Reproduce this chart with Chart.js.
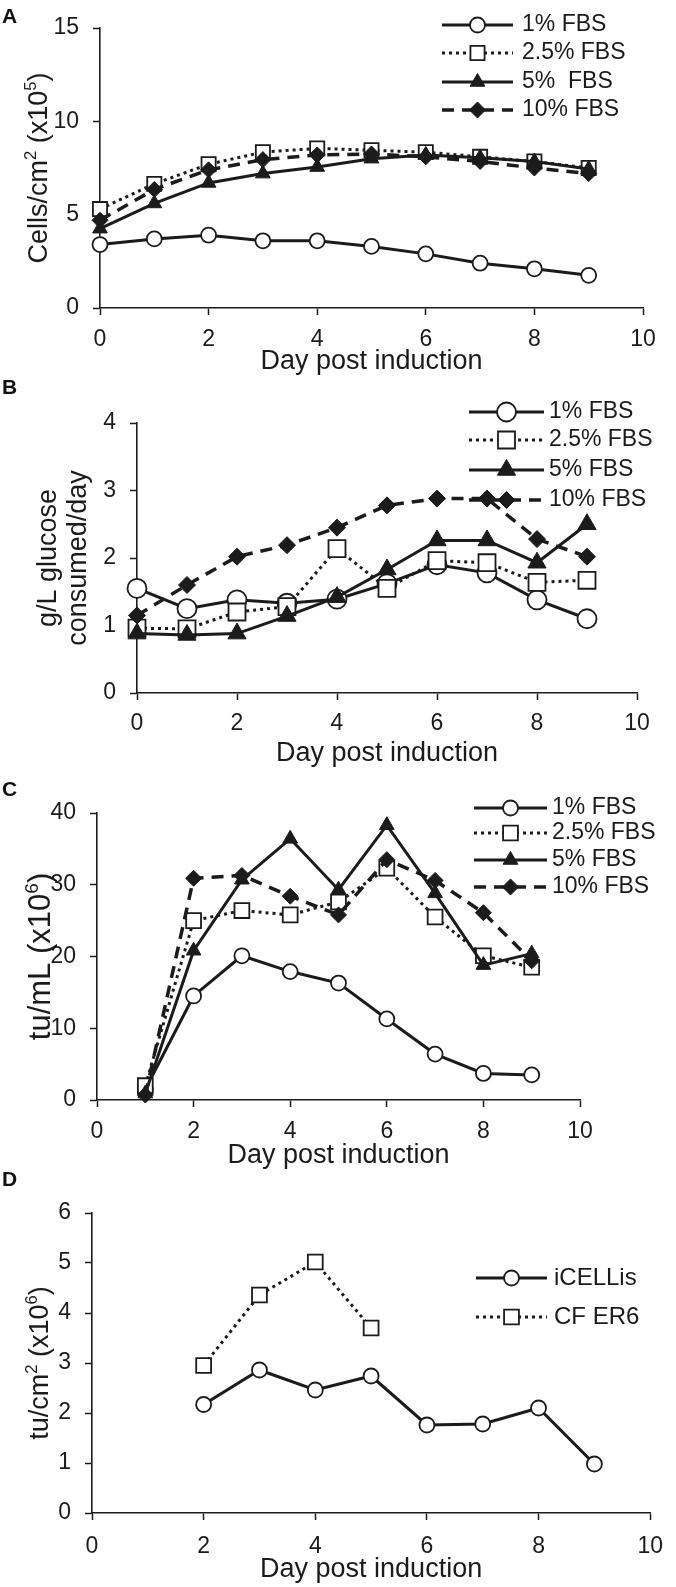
<!DOCTYPE html>
<html>
<head>
<meta charset="utf-8">
<script src="https://cdn.jsdelivr.net/npm/chart.js@4.4.1/dist/chart.umd.min.js"></script>
<style>
  html, body { margin: 0; padding: 0; background: #fff; }
  body { width: 676px; height: 1587px; position: relative; overflow: hidden; }
  .panel { position: absolute; left: 0; width: 676px; }
  .tag { position: absolute; left: 2px; font: bold 21px/21px 'Liberation Sans', Arial, sans-serif; color: #111; }
</style>
</head>
<body>
<div class="panel" style="top:0px;height:379px"><canvas id="chartA"></canvas></div>
<div class="panel" style="top:379px;height:392px"><canvas id="chartB"></canvas></div>
<div class="panel" style="top:771px;height:402px"><canvas id="chartC"></canvas></div>
<div class="panel" style="top:1173px;height:414px"><canvas id="chartD"></canvas></div>
<div class="tag" style="top:5px">A</div>
<div class="tag" style="top:376px">B</div>
<div class="tag" style="top:778px">C</div>
<div class="tag" style="top:1168px">D</div>

<script>
// ---- data ----
const days = [0, 1, 2, 3, 4, 5, 6, 7, 8, 9];
const titerDays = [1, 2, 3, 4, 5, 6, 7, 8, 9];
const icellisDays = [2, 3, 4, 5, 6, 7, 8, 9];
const cfDays = [2, 3, 4, 5];

// A - cells/cm2 (x10^5)
const cellsFbs1 = [3.4, 3.7, 3.9, 3.6, 3.6, 3.3, 2.9, 2.4, 2.1, 1.75];
const cellsFbs25 = [5.3, 6.65, 7.7, 8.35, 8.55, 8.45, 8.35, 8.1, 7.85, 7.5];
const cellsFbs5 = [4.25, 5.6, 6.7, 7.2, 7.55, 8.0, 8.2, 8.05, 7.85, 7.45];
const cellsFbs10 = [4.7, 6.35, 7.4, 7.95, 8.2, 8.25, 8.1, 7.85, 7.5, 7.2];

// B - g/L glucose consumed/day
const glucoseFbs1 = [1.55, 1.25, 1.38, 1.33, 1.39, 1.62, 1.9, 1.78, 1.38, 1.1];
const glucoseFbs25 = [0.96, 0.95, 1.2, 1.28, 2.14, 1.55, 1.96, 1.93, 1.64, 1.67];
const glucoseFbs5 = [0.88, 0.86, 0.88, 1.14, 1.42, 1.83, 2.26, 2.26, 1.93, 2.5];
const glucoseFbs10 = [1.15, 1.6, 2.02, 2.19, 2.45, 2.78, 2.88, 2.88, 2.28, 2.02];

// C - tu/mL (x10^6)
const titerFbs1 = [1.5, 14.5, 20.1, 17.9, 16.3, 11.3, 6.4, 3.7, 3.5];
const titerFbs25 = [2.0, 25.0, 26.4, 25.8, 27.6, 32.3, 25.5, 20.1, 18.5];
const titerFbs5 = [0.9, 20.8, 30.7, 36.4, 29.3, 38.3, 28.8, 18.8, 20.4];
const titerFbs10 = [0.7, 30.9, 31.3, 28.4, 25.8, 33.5, 30.6, 26.1, 19.4];

// D - tu/cm2 (x10^6)
const icellis = [2.17, 2.86, 2.46, 2.74, 1.76, 1.78, 2.1, 0.98];
const cfEr6 = [2.95, 4.36, 5.02, 3.7];

const labelsA = ['1% FBS', '2.5% FBS', '5%  FBS', '10% FBS'];
const labelsBC = ['1% FBS', '2.5% FBS', '5% FBS', '10% FBS'];
const labelsD = ['iCELLis', 'CF ER6'];

const xTitle = 'Day post induction';
const yTicksA = { max: 15, step: 5 };
const yTicksB = { max: 4, step: 1 };
const yTicksC = { max: 40, step: 10 };
const yTicksD = { max: 6, step: 1 };

// ---- styling ----
const ink = '#1b1b1b';
const FONT = "'Liberation Sans', Arial, sans-serif";

const styles = {
    open:    { point: 'circle',   fill: '#fff', dash: [],      width: 3,   pbw: 1.8, order: 3 },
    square:  { point: 'rect',     fill: '#fff', dash: [3, 4],  width: 3,   pbw: 1.8, order: 2 },
    tri:     { point: 'triangle', fill: ink,    dash: [],      width: 3,   pbw: 1,   order: 1 },
    diamond: { point: 'rectRot',  fill: ink,    dash: [12, 8], width: 3.5, pbw: 1,   order: 0 }
};

function series(label, xs, ys, kind, r) {
    const st = styles[kind];
    return {
        label: label,
        data: xs.map((x, i) => ({ x: x, y: ys[i] })),
        borderColor: ink,
        borderWidth: st.width,
        borderDash: st.dash,
        pointStyle: st.point,
        pointRadius: r,
        pointHoverRadius: r,
        pointBackgroundColor: st.fill,
        pointBorderColor: ink,
        pointBorderWidth: st.pbw,
        tension: 0,
        clip: false,
        order: st.order
    };
}

// draws a rotated axis title with superscript parts
function drawUpTitle(ctx, parts, baseX, centerY, size) {
    ctx.save();
    ctx.translate(baseX, centerY);
    ctx.rotate(-Math.PI / 2);
    ctx.textAlign = 'left';
    ctx.textBaseline = 'alphabetic';
    let total = 0;
    parts.forEach(p => {
        ctx.font = (p[1] ? size * 0.62 : size) + 'px ' + FONT;
        total += ctx.measureText(p[0]).width;
    });
    let x = -total / 2;
    parts.forEach(p => {
        ctx.font = (p[1] ? size * 0.62 : size) + 'px ' + FONT;
        ctx.fillText(p[0], x, p[1] ? -size * 0.4 : 0);
        x += ctx.measureText(p[0]).width;
    });
    ctx.restore();
}

function drawMarker(ctx, ds, x, y) {
    ctx.fillStyle = ds.pointBackgroundColor;
    ctx.strokeStyle = ds.pointBorderColor;
    ctx.lineWidth = ds.pointBorderWidth;
    Chart.helpers.drawPoint(ctx, {
        pointStyle: ds.pointStyle,
        radius: ds.pointRadius,
        rotation: 0,
        borderWidth: ds.pointBorderWidth
    }, x, y);
}

const panelExtras = {
    id: 'panelExtras',
    afterDatasetsDraw(chart, args, opts) {
        const ctx = chart.ctx;
        const area = chart.chartArea;
        ctx.save();
        ctx.fillStyle = ink;
        opts.yTitle.forEach(line => {
            drawUpTitle(ctx, line.parts, line.x, (area.top + area.bottom) / 2, opts.yTitleSize);
        });

        const lg = opts.legend;
        chart.data.datasets.forEach((ds, i) => {
            const y = lg.rows[i];
            ctx.beginPath();
            ctx.setLineDash(ds.borderDash);
            ctx.lineWidth = ds.borderWidth;
            ctx.strokeStyle = ds.borderColor;
            ctx.moveTo(lg.x0, y);
            ctx.lineTo(lg.x1, y);
            ctx.stroke();
            ctx.setLineDash([]);
            drawMarker(ctx, ds, (lg.x0 + lg.x1) / 2, y);
            ctx.fillStyle = ink;
            ctx.font = lg.size + 'px ' + FONT;
            ctx.textAlign = 'left';
            ctx.textBaseline = 'middle';
            ctx.fillText(ds.label, lg.textX, y);
        });
        ctx.restore();
    }
};

function makePanel(id, p) {
    const axisGrid = {
        display: true,
        drawOnChartArea: false,
        drawTicks: true,
        tickLength: 7,
        tickWidth: 1.5,
        tickColor: ink
    };
    const axisBorder = { display: true, color: ink, width: 1.6 };
    return new Chart(document.getElementById(id), {
        type: 'line',
        data: { datasets: p.datasets },
        options: {
            responsive: true,
            maintainAspectRatio: false,
            animation: false,
            events: [],
            layout: { padding: { top: p.plotTop, right: 676 - p.plotRight, left: 0, bottom: 0 } },
            plugins: {
                legend: { display: false },
                tooltip: { enabled: false },
                panelExtras: { yTitle: p.yTitle, yTitleSize: p.yTitleSize, legend: p.legend }
            },
            scales: {
                x: {
                    type: 'linear',
                    min: 0,
                    max: 10,
                    ticks: {
                        stepSize: 2,
                        autoSkip: false,
                        maxRotation: 0,
                        padding: p.xTickPad,
                        color: ink,
                        font: { family: FONT, size: 23 }
                    },
                    grid: axisGrid,
                    border: axisBorder,
                    title: {
                        display: true,
                        text: xTitle,
                        color: ink,
                        font: { family: FONT, size: 27 },
                        padding: { top: 0, bottom: 1 }
                    },
                    afterFit: s => { s.height = p.height - p.plotBottom; }
                },
                y: {
                    type: 'linear',
                    min: 0,
                    max: p.yTicks.max,
                    ticks: {
                        stepSize: p.yTicks.step,
                        padding: 14,
                        color: ink,
                        font: { family: FONT, size: 23 }
                    },
                    grid: axisGrid,
                    border: axisBorder,
                    afterFit: s => { s.width = p.plotLeft; }
                }
            }
        },
        plugins: [panelExtras]
    });
}

// A
makePanel('chartA', {
    height: 379, plotLeft: 100, plotRight: 643, plotTop: 28, plotBottom: 308, xTickPad: 11,
    yTicks: yTicksA,
    datasets: [
        series(labelsA[0], days, cellsFbs1, 'open', 7.5),
        series(labelsA[1], days, cellsFbs25, 'square', 10),
        series(labelsA[2], days, cellsFbs5, 'tri', 8.5),
        series(labelsA[3], days, cellsFbs10, 'diamond', 8)
    ],
    yTitleSize: 27,
    yTitle: [{ x: 47, parts: [['Cells/cm'], ['2', 1], [' (x10'], ['5', 1], [')']] }],
    legend: { x0: 442, x1: 513, textX: 522, size: 23, rows: [25, 53, 82, 110] }
});

// B
makePanel('chartB', {
    height: 394, plotLeft: 137, plotRight: 637, plotTop: 44, plotBottom: 316, xTickPad: 10,
    yTicks: yTicksB,
    datasets: [
        series(labelsBC[0], days, glucoseFbs1, 'open', 9.5),
        series(labelsBC[1], days, glucoseFbs25, 'square', 12),
        series(labelsBC[2], days, glucoseFbs5, 'tri', 10.5),
        series(labelsBC[3], days, glucoseFbs10, 'diamond', 8.5)
    ],
    yTitleSize: 27,
    yTitle: [
        { x: 56, parts: [['g/L glucose']] },
        { x: 86, parts: [['consumed/day']] }
    ],
    legend: { x0: 469, x1: 544, textX: 549, size: 23, rows: [33, 61, 91, 121] }
});

// C
makePanel('chartC', {
    height: 402, plotLeft: 97, plotRight: 580, plotTop: 42, plotBottom: 329, xTickPad: 11,
    yTicks: yTicksC,
    datasets: [
        series(labelsBC[0], titerDays, titerFbs1, 'open', 7.5),
        series(labelsBC[1], titerDays, titerFbs25, 'square', 10.5),
        series(labelsBC[2], titerDays, titerFbs5, 'tri', 8.5),
        series(labelsBC[3], titerDays, titerFbs10, 'diamond', 8)
    ],
    yTitleSize: 31,
    yTitle: [{ x: 50, parts: [['tu/mL (x10'], ['6', 1], [')']] }],
    legend: { x0: 474, x1: 547, textX: 552, size: 23, rows: [37, 62, 89, 116] }
});

// D
makePanel('chartD', {
    height: 414, plotLeft: 92, plotRight: 662, plotTop: 40, plotBottom: 340, xTickPad: 13,
    yTicks: yTicksD,
    datasets: [
        series(labelsD[0], icellisDays, icellis, 'open', 7.5),
        series(labelsD[1], cfDays, cfEr6, 'square', 10.5)
    ],
    yTitleSize: 27,
    yTitle: [{ x: 48, parts: [['tu/cm'], ['2', 1], [' (x10'], ['6', 1], [')']] }],
    legend: { x0: 476, x1: 547, textX: 554, size: 24, rows: [105, 144] }
});
</script>
</body>
</html>
